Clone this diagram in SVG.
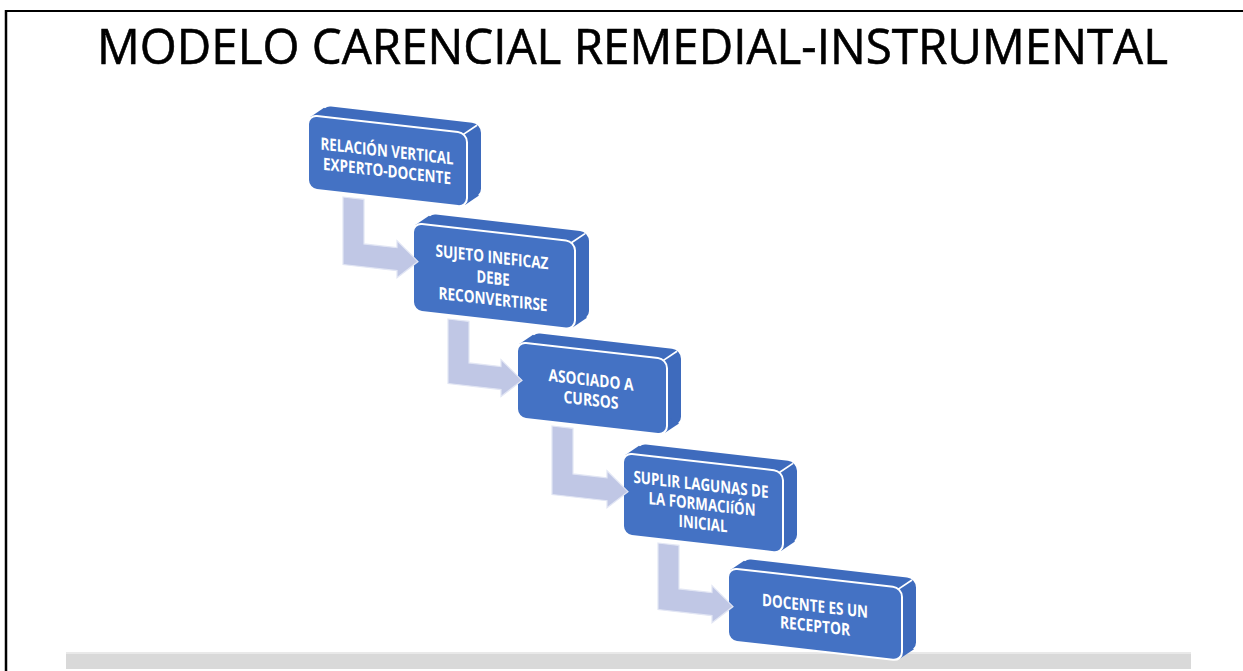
<svg xmlns="http://www.w3.org/2000/svg" width="1243" height="671" viewBox="0 0 1243 671">
<style>
.title{font-family:"Open Sans","Liberation Sans",sans-serif;font-size:50px;fill:#000;stroke:#000;stroke-width:0.6;}
.lbl{font-family:"Open Sans","Liberation Sans",sans-serif;font-size:17px;font-weight:700;fill:#fff;text-anchor:middle;}
.front{fill:#4472C4;stroke:#fff;stroke-width:2;}
.side{fill:#3E6BBD;}
.edge{stroke:#fff;stroke-width:1.6;fill:none;}
.arrow{fill:#C0C7E5;stroke:#E2E6F4;stroke-width:1.2;}
</style>
<rect x="0" y="0" width="1243" height="671" fill="#fff"/>
<g id="frame">
<line x1="6" y1="10" x2="6" y2="671" stroke="#000" stroke-width="2.5"/>
<line x1="5" y1="11" x2="1243" y2="11" stroke="#000" stroke-width="2.2"/>
</g>
<g id="base-bar">
<rect x="66" y="652" width="1125" height="17" fill="#D9D9D9"/>
<rect x="66" y="652" width="1125" height="2" fill="#E9E9E9"/>
</g>
<text class="title" x="632.5" y="64" text-anchor="middle" textLength="1071" lengthAdjust="spacingAndGlyphs">MODELO CARENCIAL REMEDIAL-INSTRUMENTAL</text>

<g id="node1" transform="translate(308,115) skewY(6.5)">
<rect class="side" x="14" y="-11" width="159" height="74" rx="9"/>
<polygon class="side" points="2,2 16,-9 171,61 157,72"/>
<line class="edge" x1="155" y1="2" x2="169" y2="-9"/>
<rect class="front" x="0" y="0" width="159" height="74" rx="9"/>
<text class="lbl" x="79" y="33" textLength="133" lengthAdjust="spacingAndGlyphs">RELACIÓN VERTICAL</text>
<text class="lbl" x="79" y="53" textLength="128" lengthAdjust="spacingAndGlyphs">EXPERTO-DOCENTE</text>
</g>

<g id="node2" transform="translate(413,223) skewY(6.5)">
<rect class="side" x="14" y="-11" width="162" height="88" rx="9"/>
<polygon class="side" points="2,2 16,-9 174,75 160,86"/>
<line class="edge" x1="158" y1="2" x2="172" y2="-9"/>
<rect class="front" x="0" y="0" width="162" height="88" rx="9"/>
<text class="lbl" x="79" y="31" textLength="113" lengthAdjust="spacingAndGlyphs">SUJETO INEFICAZ</text>
<text class="lbl" x="80" y="52" textLength="33" lengthAdjust="spacingAndGlyphs">DEBE</text>
<text class="lbl" x="80" y="73" textLength="109" lengthAdjust="spacingAndGlyphs">RECONVERTIRSE</text>
</g>

<g id="node3" transform="translate(517,342) skewY(6.5)">
<rect class="side" x="14" y="-11" width="150" height="76" rx="9"/>
<polygon class="side" points="2,2 16,-9 162,63 148,74"/>
<line class="edge" x1="146" y1="2" x2="160" y2="-9"/>
<rect class="front" x="0" y="0" width="150" height="76" rx="9"/>
<text class="lbl" x="74" y="35.5" textLength="85" lengthAdjust="spacingAndGlyphs">ASOCIADO A</text>
<text class="lbl" x="74" y="55.5" textLength="55" lengthAdjust="spacingAndGlyphs">CURSOS</text>
</g>

<g id="node4" transform="translate(623,453) skewY(6.5)">
<rect class="side" x="14" y="-11" width="160" height="82" rx="9"/>
<polygon class="side" points="2,2 16,-9 172,69 158,80"/>
<line class="edge" x1="156" y1="2" x2="170" y2="-9"/>
<rect class="front" x="0" y="0" width="160" height="82" rx="9"/>
<text class="lbl" x="78" y="28.5" textLength="135" lengthAdjust="spacingAndGlyphs">SUPLIR LAGUNAS DE</text>
<text class="lbl" x="79" y="48" textLength="107" lengthAdjust="spacingAndGlyphs">LA FORMACIíÓN</text>
<text class="lbl" x="80" y="67.5" textLength="49" lengthAdjust="spacingAndGlyphs">INICIAL</text>
</g>

<g id="node5" transform="translate(728,568) skewY(6.5)">
<rect class="side" x="14" y="-11" width="174" height="73" rx="9"/>
<polygon class="side" points="2,2 16,-9 186,60 172,71"/>
<line class="edge" x1="170" y1="2" x2="184" y2="-9"/>
<rect class="front" x="0" y="0" width="174" height="73" rx="9"/>
<text class="lbl" x="87" y="34" textLength="106" lengthAdjust="spacingAndGlyphs">DOCENTE ES UN</text>
<text class="lbl" x="87" y="54" textLength="70" lengthAdjust="spacingAndGlyphs">RECEPTOR</text>
</g>

<g id="connectors">
<path class="arrow" transform="translate(308,115) skewY(6.5)" d="M35,78 L56,78 L56,122.5 L89,122.5 L89,115.5 L110,134 L89,152.5 L89,145.5 L35,145.5 Z"/>
<path class="arrow" transform="translate(413,223) skewY(6.5)" d="M35,92 L56,92 L56,133.5 L88,133.5 L88,126.5 L109,145 L88,163.5 L88,156.5 L35,156.5 Z"/>
<path class="arrow" transform="translate(517,342) skewY(6.5)" d="M35,80 L56,80 L56,125.5 L90,125.5 L90,118.5 L111,137 L90,155.5 L90,148.5 L35,148.5 Z"/>
<path class="arrow" transform="translate(623,453) skewY(6.5)" d="M35,86 L56,86 L56,129.5 L89,129.5 L89,122.5 L110,141 L89,159.5 L89,152.5 L35,152.5 Z"/>
</g>
</svg>
